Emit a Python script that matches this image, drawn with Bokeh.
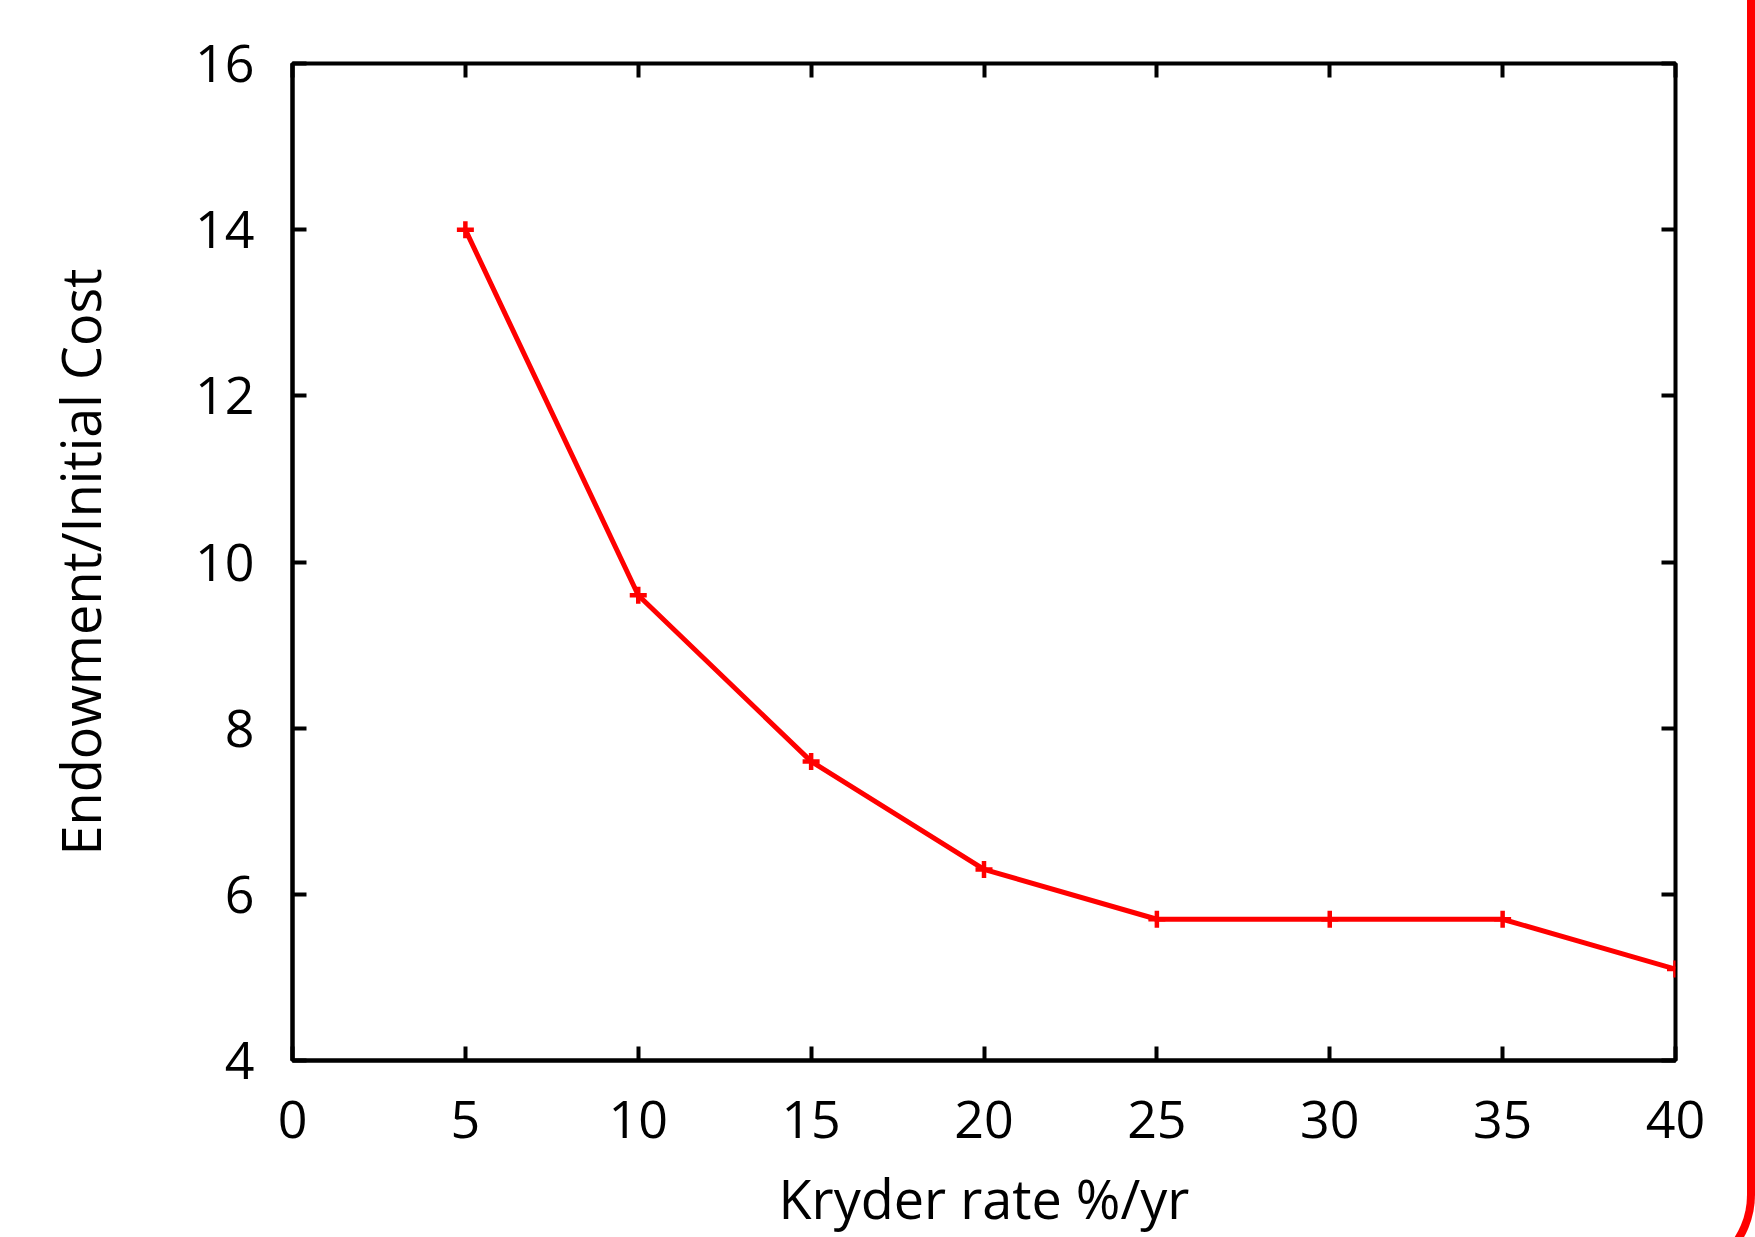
from bokeh.plotting import figure
from bokeh.models import Range1d, LinearAxis, FixedTicker
from bokeh.embed import file_html
from bokeh.resources import INLINE

kryder_rate = [5, 10, 15, 20, 25, 30, 35, 40]
endowment_ratio = [14.0, 9.6, 7.6, 6.3, 5.7, 5.7, 5.7, 5.1]
x_ticks = [0, 5, 10, 15, 20, 25, 30, 35, 40]
y_ticks = [4, 6, 8, 10, 12, 14, 16]
x_title = "Kryder rate %/yr"
y_title = "Endowment/Initial Cost"

FONT = "Open Sans"
RED = "#ff0000"

p = figure(width=1755, height=1237, output_backend="svg", toolbar_location=None,
           x_range=Range1d(0, 40), y_range=Range1d(4, 16),
           min_border_left=292, min_border_right=80, min_border_top=63,
           min_border_bottom=176)
p.background_fill_color = "white"
p.border_fill_color = "white"
p.outline_line_color = "black"
p.outline_line_width = 4
p.grid.visible = False

for ax, ticks in ((p.xaxis[0], x_ticks), (p.yaxis[0], y_ticks)):
    ax.ticker = FixedTicker(ticks=ticks)
    ax.axis_line_color = "black"
    ax.axis_line_width = 4
    ax.major_tick_in = 14
    ax.major_tick_out = 0
    ax.major_tick_line_width = 4
    ax.minor_tick_line_color = None
    ax.major_label_text_font = FONT
    ax.major_label_text_font_size = "52px"
    ax.major_label_text_color = "black"
    ax.axis_label_text_font = FONT
    ax.axis_label_text_font_size = "54px"
    ax.axis_label_text_font_style = "normal"
    ax.axis_label_text_color = "black"

p.xaxis.axis_label = x_title
p.yaxis.axis_label = y_title
p.xaxis.major_label_standoff = 40
p.yaxis.major_label_standoff = 38
p.xaxis.axis_label_standoff = 20
p.yaxis.axis_label_standoff = 75

for loc, ticks in (("above", x_ticks), ("right", y_ticks)):
    ax = LinearAxis(ticker=FixedTicker(ticks=ticks), major_label_text_font_size="1px",
                    major_label_text_color=None, major_label_standoff=0,
                    axis_line_color=None, major_tick_in=14, major_tick_out=0,
                    major_tick_line_width=4, minor_tick_line_color=None)
    p.add_layout(ax, loc)

p.line(kryder_rate, endowment_ratio, line_color=RED, line_width=5)
p.scatter(kryder_rate, endowment_ratio, marker="cross", size=17, line_color=RED,
          line_width=4.5)

# decorative rounded red frame of the slide: only its right edge and the start of
# its bottom-right corner are inside the picture
p.stylesheets = [
    ":host { position: relative; overflow: hidden; }"
    ":host::after { content: ''; position: absolute; right: 0px; bottom: -44px;"
    " width: 400px; height: 2000px; box-sizing: border-box;"
    " border-right: 8px solid #ff0000; border-bottom: 8px solid #ff0000;"
    " border-bottom-right-radius: 86px; pointer-events: none; }"
]

open("out.html", "w").write(file_html(p, INLINE))
